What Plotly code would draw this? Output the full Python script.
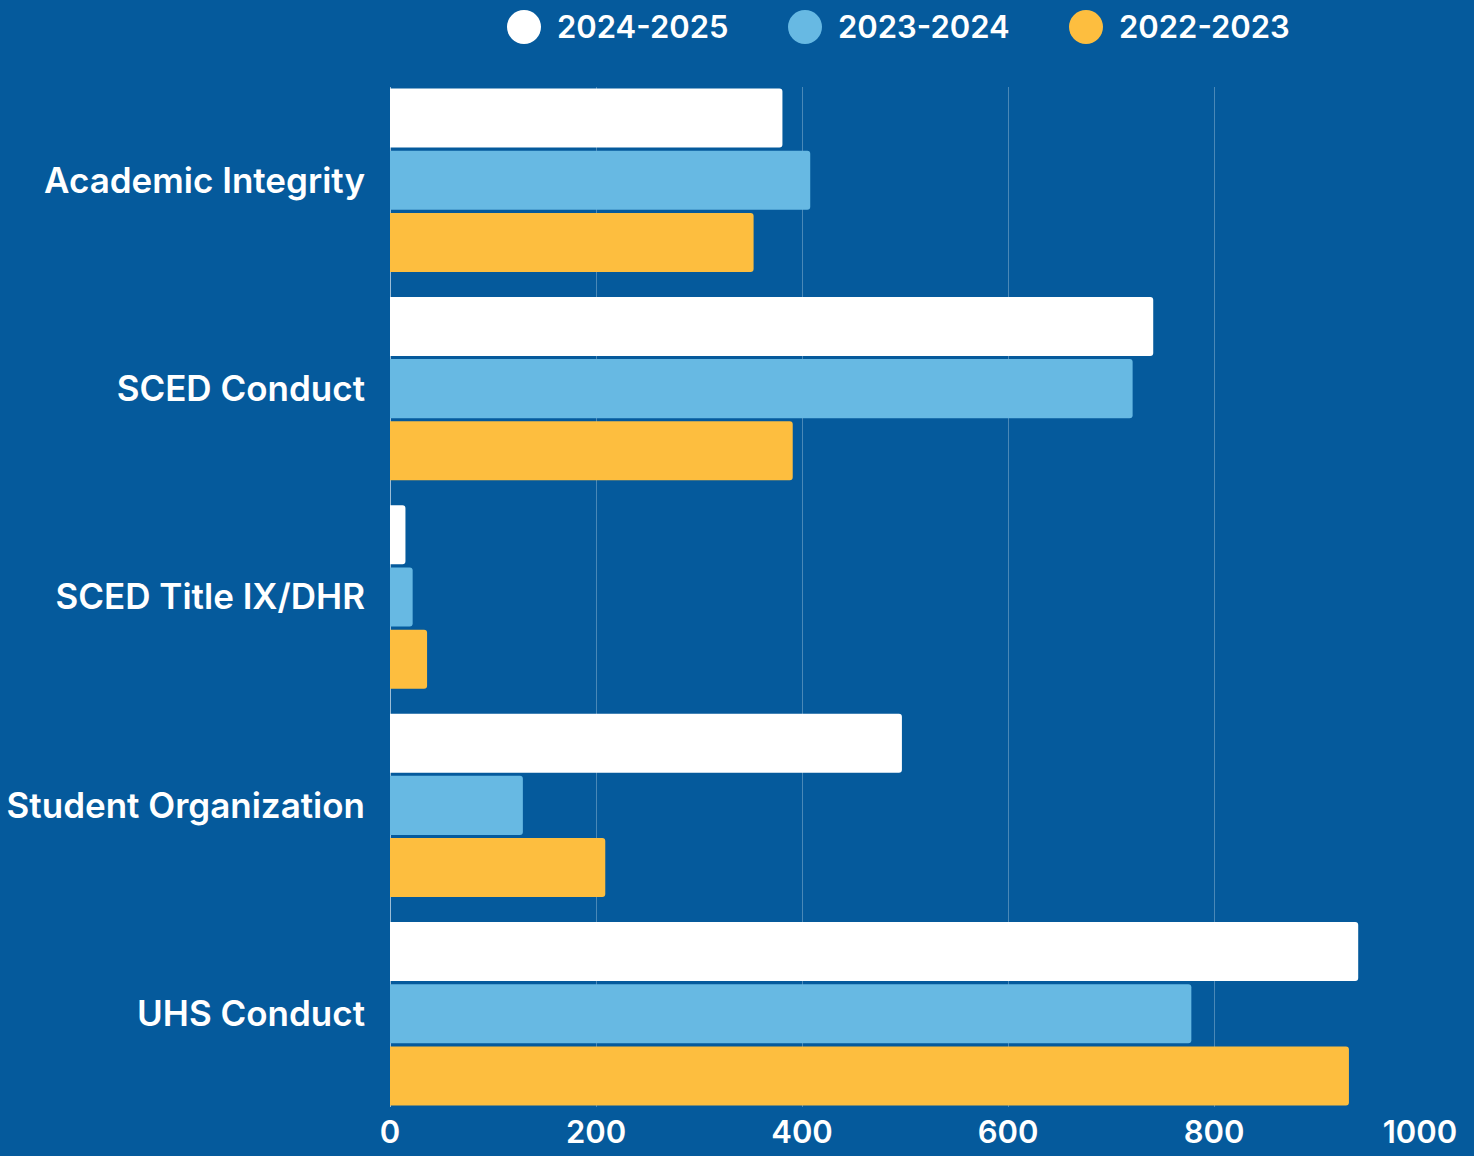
import plotly.graph_objects as go

categories = ["Academic Integrity", "SCED Conduct", "SCED Title IX/DHR", "Student Organization", "UHS Conduct"]
series_names = ["2024-2025", "2023-2024", "2022-2023"]
values_2024_2025 = [381, 741, 15, 497, 940]
values_2023_2024 = [408, 721, 22, 129, 778]
values_2022_2023 = [353, 391, 36, 209, 931]
x_ticks = [0, 200, 400, 600, 800, 1000]

BG = "#055A9C"
colors = ["#FFFFFF", "#67B9E3", "#FDBE3F"]
FONT = "Inter"
BARGAP = 0.105

fig = go.Figure()
for name, vals, col in zip(series_names, [values_2024_2025, values_2023_2024, values_2022_2023], colors):
    fig.add_trace(go.Bar(
        y=categories, x=vals, name=name, orientation="h",
        marker=dict(color=col, line=dict(width=0)),
        showlegend=False, hoverinfo="x+y",
    ))

W, H = 1474, 1156
pl, pr, pt, pb = 390, 54, 87, 49

fig.update_layout(
    width=W, height=H,
    paper_bgcolor=BG, plot_bgcolor=BG,
    margin=dict(l=pl, r=pr, t=pt, b=pb, autoexpand=False),
    barmode="group", bargap=BARGAP, bargroupgap=0.05,
    barcornerradius=3,
    font=dict(family=FONT, color="white"),
    showlegend=False,
)
fig.update_xaxes(
    range=[0, 1000], tickvals=x_ticks, ticktext=[str(t) for t in x_ticks],
    showgrid=True, gridcolor="rgba(255,255,255,0.28)", gridwidth=1,
    zeroline=True, zerolinecolor="rgba(255,255,255,0.6)", zerolinewidth=1,
    showline=False, ticks="", automargin=False, ticklabelstandoff=4,
    tickfont=dict(family=FONT, size=31, color="white", weight=600),
)
n = len(categories)
fig.update_yaxes(
    range=[n - 0.5 - BARGAP / 2, -0.5 + BARGAP / 2],
    showgrid=False, showline=False, ticks="",
    ticklabelstandoff=24, automargin=False,
    tickfont=dict(family=FONT, size=35, color="white", weight=600),
)

# legend drawn in paper coordinates (large circles)
pw, ph = W - pl - pr, H - pt - pb
def px_to_paper_x(px):
    return (px - pl) / pw
def py_to_paper_y(py):
    return (H - pb - py) / ph

circle_px = [524, 805, 1086]
r = 17
for name, col, cx in zip(series_names, colors, circle_px):
    fig.add_shape(type="circle", xref="paper", yref="paper",
                  x0=px_to_paper_x(cx - r), x1=px_to_paper_x(cx + r),
                  y0=py_to_paper_y(27 + r), y1=py_to_paper_y(27 - r),
                  fillcolor=col, line=dict(width=0))
    fig.add_annotation(xref="paper", yref="paper",
                       x=px_to_paper_x(cx + 31), y=py_to_paper_y(27),
                       text=name, showarrow=False, xanchor="left", yanchor="middle",
                       font=dict(family=FONT, size=31, color="white", weight=600))

fig.write_html("out.html", config={"displayModeBar": False},
               post_script="document.body.style.margin='0';document.body.style.background='" + BG + "';")
